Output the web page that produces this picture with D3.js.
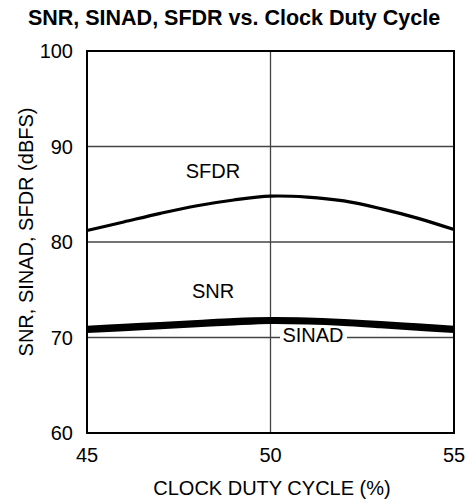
<!DOCTYPE html>
<html>
<head>
<meta charset="utf-8">
<script src="https://cdn.jsdelivr.net/npm/d3@7"></script>
<style>
  body { margin: 0; background: #fff; }
  svg text { font-family: "Liberation Sans", Arial, sans-serif; fill: #000; }
</style>
</head>
<body>
<div id="chart"></div>
<script>
// duty cycle (%) on x, dBFS on y
var dutyCycle = [45, 46, 47, 48, 49, 50, 51, 52, 53, 54, 55];
var sfdr  = [81.2, 82.1, 83.0, 83.8, 84.4, 84.8, 84.7, 84.3, 83.5, 82.5, 81.3];
var snr   = [71.0, 71.2, 71.4, 71.6, 71.8, 71.9, 71.85, 71.7, 71.5, 71.25, 71.0];
var sinad = [70.7, 70.9, 71.1, 71.3, 71.5, 71.65, 71.6, 71.45, 71.2, 70.95, 70.7];
var xTicks = [45, 50, 55];
var yTicks = [60, 70, 80, 90, 100];

var width = 466, height = 501;
var margin = {top: 51, right: 12, bottom: 68, left: 87};
var fs = "20px";

var svg = d3.select("#chart").append("svg")
    .attr("width", width)
    .attr("height", height);

var x = d3.scaleLinear().domain([45, 55]).range([margin.left, width - margin.right]);
var y = d3.scaleLinear().domain([60, 100]).range([height - margin.bottom, margin.top]);

svg.append("text")
    .attr("x", 234)
    .attr("y", 25)
    .attr("text-anchor", "middle")
    .style("font-size", "21.5px")
    .style("font-weight", "bold")
    .text("SNR, SINAD, SFDR vs. Clock Duty Cycle");

// grid lines
svg.selectAll(".hgrid")
    .data([70, 80, 90])
    .enter()
    .append("line")
    .attr("x1", x(45)).attr("x2", x(55))
    .attr("y1", function (d) { return y(d); })
    .attr("y2", function (d) { return y(d); })
    .style("stroke", "#444")
    .style("stroke-width", 1.3);

svg.append("line")
    .attr("x1", x(50)).attr("x2", x(50))
    .attr("y1", y(60)).attr("y2", y(100))
    .style("stroke", "#444")
    .style("stroke-width", 1.3);

// frame
svg.append("rect")
    .attr("x", x(45))
    .attr("y", y(100))
    .attr("width", x(55) - x(45))
    .attr("height", y(60) - y(100))
    .style("fill", "none")
    .style("stroke", "#000")
    .style("stroke-width", 2);

var line = d3.line()
    .x(function (d, i) { return x(dutyCycle[i]); })
    .y(function (d) { return y(d); })
    .curve(d3.curveCatmullRom);

[sfdr, snr, sinad].forEach(function (s) {
    svg.append("path")
        .datum(s)
        .attr("d", line)
        .style("fill", "none")
        .style("stroke", "#000")
        .style("stroke-width", s === sfdr ? 3.2 : 4.5);
});

// tick labels
svg.selectAll(".ytick")
    .data(yTicks)
    .enter()
    .append("text")
    .attr("x", 73)
    .attr("y", function (d) { return y(d) + 7; })
    .attr("text-anchor", "end")
    .style("font-size", fs)
    .text(function (d) { return d; });

svg.selectAll(".xtick")
    .data(xTicks)
    .enter()
    .append("text")
    .attr("x", function (d) { return x(d); })
    .attr("y", 462)
    .attr("text-anchor", "middle")
    .style("font-size", fs)
    .text(function (d) { return d; });

// axis titles
svg.append("text")
    .attr("x", 272)
    .attr("y", 495)
    .attr("text-anchor", "middle")
    .style("font-size", fs)
    .text("CLOCK DUTY CYCLE (%)");

svg.append("text")
    .attr("transform", "translate(33,232) rotate(-90)")
    .attr("text-anchor", "middle")
    .style("font-size", fs)
    .text("SNR, SINAD, SFDR (dBFS)");

// series labels
svg.append("text")
    .attr("x", 213).attr("y", 178)
    .attr("text-anchor", "middle")
    .style("font-size", fs)
    .text("SFDR");

svg.append("text")
    .attr("x", 213).attr("y", 298)
    .attr("text-anchor", "middle")
    .style("font-size", fs)
    .text("SNR");

svg.append("rect")
    .attr("x", 280).attr("y", 327)
    .attr("width", 67).attr("height", 17)
    .style("fill", "#fff");

svg.append("text")
    .attr("x", 313).attr("y", 342)
    .attr("text-anchor", "middle")
    .style("font-size", fs)
    .text("SINAD");
</script>
</body>
</html>
